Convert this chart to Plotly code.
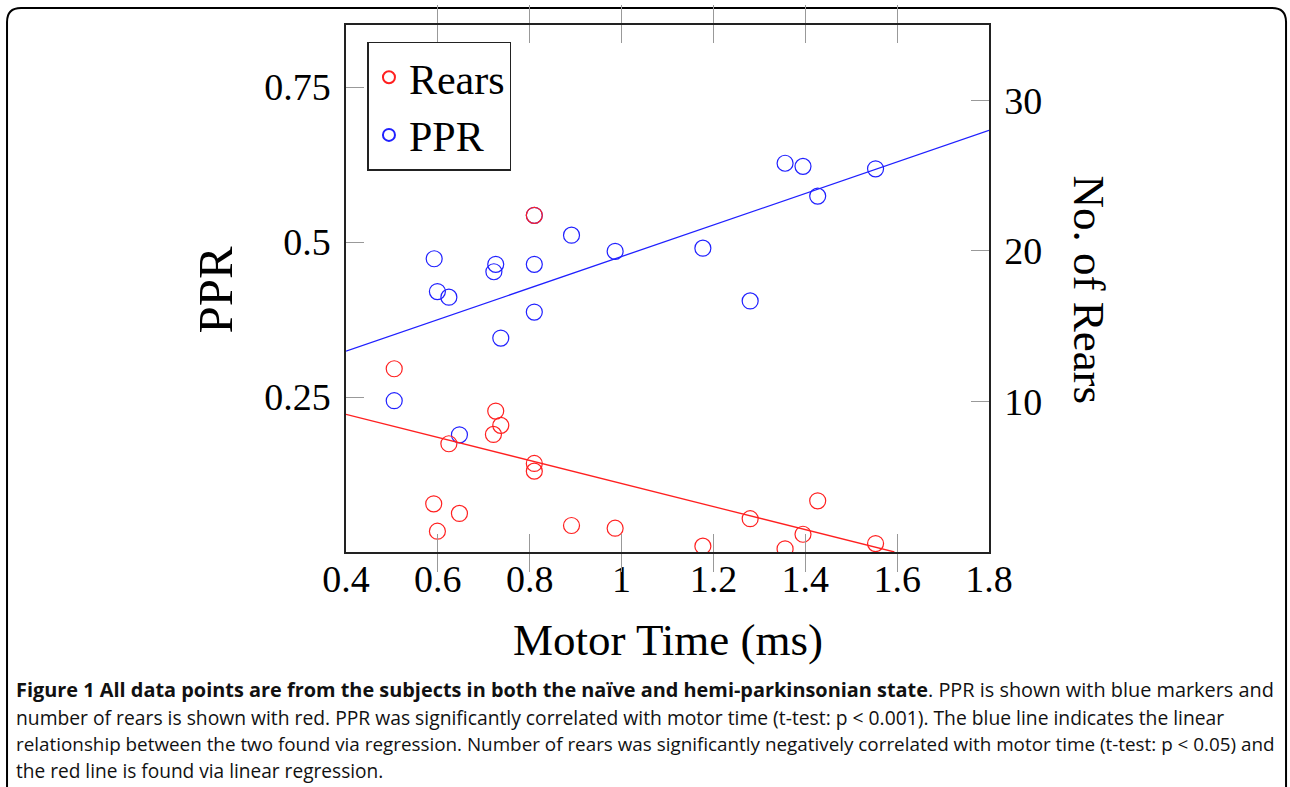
import plotly.graph_objects as go

# ---- data ----
motor_time = [0.505, 0.592, 0.599, 0.624, 0.647, 0.722, 0.726, 0.737,
              0.810, 0.810, 0.810, 0.891, 0.986, 1.177, 1.280, 1.356,
              1.395, 1.427, 1.553]
ppr = [0.244, 0.473, 0.420, 0.411, 0.189, 0.452, 0.464, 0.345,
       0.543, 0.464, 0.387, 0.511, 0.485, 0.490, 0.405, 0.627,
       0.622, 0.574, 0.618]
rears_x = [0.505, 0.591, 0.599, 0.624, 0.647, 0.721, 0.726, 0.737,
           0.810, 0.810, 0.810, 0.891, 0.986, 1.177, 1.280, 1.356,
           1.395, 1.427, 1.553]
rears = [12.17, 3.20, 1.38, 7.19, 2.56, 7.81, 9.36, 8.41,
         22.36, 5.88, 5.37, 1.76, 1.58, 0.39, 2.21, 0.21,
         1.18, 3.40, 0.56]

# regression lines (endpoints)
ppr_fit_x = [0.4, 1.8]
ppr_fit_y = [0.324, 0.680]
rears_fit_x = [0.4, 1.594]
rears_fit_y = [9.14, 0.0]

x_ticks = [0.4, 0.6, 0.8, 1.0, 1.2, 1.4, 1.6, 1.8]
x_tick_text = ["0.4", "0.6", "0.8", "1", "1.2", "1.4", "1.6", "1.8"]
ppr_ticks = [0.25, 0.5, 0.75]
ppr_tick_text = ["0.25", "0.5", "0.75"]
rears_ticks = [10, 20, 30]
rears_tick_text = ["10", "20", "30"]

caption_lines = [
    "<b>Figure 1 All data points are from the subjects in both the naïve and hemi-parkinsonian state</b>. PPR is shown with blue markers and",
    "number of rears is shown with red. PPR was significantly correlated with motor time (t-test: p &lt; 0.001). The blue line indicates the linear",
    "relationship between the two found via regression. Number of rears was significantly negatively correlated with motor time (t-test: p &lt; 0.05) and",
    "the red line is found via linear regression.",
]

# ---- layout geometry ----
W, H = 1290, 787
L, R, T, B = 345.5, 989.5, 25.0, 552.5


def px(x):
    return (x - L) / (R - L)


def py(y):
    return (B - y) / (B - T)


RED = "#ff2020"
BLUE = "#2020ff"
SERIF = "Liberation Serif, Times New Roman, serif"

fig = go.Figure()
fig.add_trace(go.Scatter(
    x=rears_x, y=rears, mode="markers", name="Rears", yaxis="y2",
    marker=dict(symbol="circle-open", size=16, color=RED, line=dict(width=1.2, color=RED)),
))
fig.add_trace(go.Scatter(
    x=motor_time, y=ppr, mode="markers", name="PPR",
    marker=dict(symbol="circle-open", size=16, color=BLUE, line=dict(width=1.2, color=BLUE)),
))
fig.add_trace(go.Scatter(
    x=ppr_fit_x, y=ppr_fit_y, mode="lines", showlegend=False,
    line=dict(color=BLUE, width=1.3),
))
fig.add_trace(go.Scatter(
    x=rears_fit_x, y=rears_fit_y, mode="lines", showlegend=False, yaxis="y2",
    line=dict(color=RED, width=1.3),
))

axis_common = dict(
    showgrid=False, zeroline=False, showline=True, linecolor="#222", linewidth=1.5,
    ticks="inside", ticklen=18, tickcolor="#999", tickwidth=1.2,
    tickfont=dict(family=SERIF, size=38, color="black"),
)

fig.update_layout(
    width=W, height=H,
    margin=dict(l=L, r=W - R, t=T, b=H - B, pad=0),
    paper_bgcolor="white", plot_bgcolor="white",
    showlegend=True,
    legend=dict(
        x=px(367), y=py(42), xanchor="left", yanchor="top",
        bgcolor="white", bordercolor="#222", borderwidth=1.5,
        font=dict(family=SERIF, size=42, color="black"),
        itemsizing="constant", tracegroupgap=0,
    ),
    xaxis=dict(range=[0.4, 1.8], tickvals=x_ticks, ticktext=x_tick_text,
               mirror="allticks", ticklabelstandoff=-7, **axis_common),
    yaxis=dict(range=[0, 0.85], tickvals=ppr_ticks, ticktext=ppr_tick_text,
               ticklabelstandoff=6, **axis_common),
    yaxis2=dict(range=[0, 35], tickvals=rears_ticks, ticktext=rears_tick_text,
                overlaying="y", side="right", ticklabelstandoff=6, **axis_common),
)

annotations = [
    dict(text="Motor Time (ms)", x=px(667.5), y=py(641), xref="paper", yref="paper",
         xanchor="center", yanchor="middle", showarrow=False,
         font=dict(family=SERIF, size=45, color="black")),
    dict(text="PPR", x=px(215), y=py(290), xref="paper", yref="paper", textangle=-90,
         xanchor="center", yanchor="middle", showarrow=False,
         font=dict(family=SERIF, size=49, color="black")),
    dict(text="No. of Rears", x=px(1090), y=py(290), xref="paper", yref="paper", textangle=90,
         xanchor="center", yanchor="middle", showarrow=False,
         font=dict(family=SERIF, size=45, color="black")),
]
cap_y = [690, 718, 745, 772]
cap_sizes = [19.9, 19.3, 18.85, 19.1]
for line, yy, fs in zip(caption_lines, cap_y, cap_sizes):
    annotations.append(dict(
        text=line, x=px(13), y=py(yy), xref="paper", yref="paper",
        xanchor="left", yanchor="middle", showarrow=False, align="left",
        font=dict(family="Open Sans, sans-serif", size=fs, color="#111"),
    ))
fig.update_layout(annotations=annotations)

# outer rounded frame
x0, x1, y0, y1, r = 6, 1287, 8, 800, 14
path = (f"M {px(x0)},{py(y0 + r)} Q {px(x0)},{py(y0)} {px(x0 + r)},{py(y0)} "
        f"L {px(x1 - r)},{py(y0)} Q {px(x1)},{py(y0)} {px(x1)},{py(y0 + r)} "
        f"L {px(x1)},{py(y1)} L {px(x0)},{py(y1)} Z")
fig.add_shape(type="path", path=path, xref="paper", yref="paper",
              line=dict(color="black", width=2), layer="below")

fig.write_html("out.html", config={"displayModeBar": False},
               post_script="document.body.style.margin='0';")
